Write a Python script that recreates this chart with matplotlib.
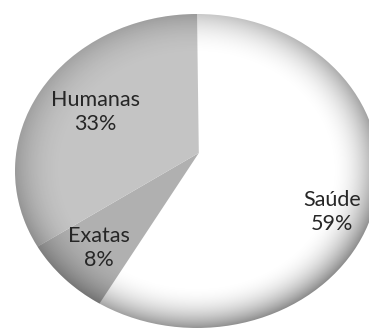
import numpy as np
import matplotlib
matplotlib.use("Agg")
import matplotlib.pyplot as plt
from matplotlib.patches import Ellipse, PathPatch
from matplotlib.path import Path

categories = ["Saúde", "Exatas", "Humanas"]
values = [59, 8, 33]
colors = ["#ffffff", "#b0b0b0", "#c4c4c4"]

W, H = 369, 331
fig = plt.figure(figsize=(W / 100, H / 100), dpi=100)
ax = fig.add_axes([0, 0, 1, 1])
ax.set_axis_off()

cx, cy, rx, ry = 197, 171, 182, 157
apex = (0.01, 0.115)  # perspective offset of the pie's apex

labels = [f"{c}\n{v}%" for c, v in zip(categories, values)]
wedges, texts = ax.pie(values, labels=labels, colors=colors, startangle=90,
                       counterclock=False, labeldistance=0.74,
                       wedgeprops=dict(linewidth=0),
                       textprops=dict(fontsize=15.5, family=["Lato", "DejaVu Sans"],
                                      color="#262626", linespacing=1.3))

# move each wedge's apex to give the tilted (perspective) look
for w in wedges:
    p = w.get_path()
    verts = p.vertices.copy()
    near = np.hypot(verts[:, 0], verts[:, 1]) < 1e-6
    verts[near] = apex
    pp = PathPatch(Path(verts, p.codes), facecolor=w.get_facecolor(),
                   edgecolor="none", lw=0, zorder=1)
    w.remove()
    ax.add_patch(pp)

label_pos = [(0.742, -0.261), (-0.538, -0.49), (-0.56, 0.376)]
for t, pos in zip(texts, label_pos):
    t.set_position(pos)
    t.set_ha("center")
    t.set_va("center")
    t.set_zorder(3)

# rim shading (3D bevel look)
xs = np.linspace(-1.05, 1.05, 400)
ys = np.linspace(-1.05, 1.05, 400)
X, Y = np.meshgrid(xs, ys)
R = np.sqrt(X ** 2 + Y ** 2)
shade = np.clip((R - 0.72) / 0.28, 0, 1) ** 2.2
ang = np.arctan2(Y, X)
dirw = 0.75 + 0.35 * np.cos(ang + np.pi / 4)
alpha = np.clip(shade * 0.42 * dirw, 0, 0.6)
rgba = np.zeros(X.shape + (4,))
rgba[..., 3] = alpha
im = ax.imshow(rgba, extent=(-1.05, 1.05, -1.05, 1.05), origin="lower",
               interpolation="bilinear", zorder=2)
clip = Ellipse((0, 0), 2, 2, transform=ax.transData, facecolor="none", edgecolor="none")
ax.add_patch(clip)
im.set_clip_path(clip)

ax.set_aspect("auto")
ax.set_xlim(-cx / rx, (W - cx) / rx)
ax.set_ylim(-(H - cy) / ry, cy / ry)

fig.savefig("out.png", dpi=100)
